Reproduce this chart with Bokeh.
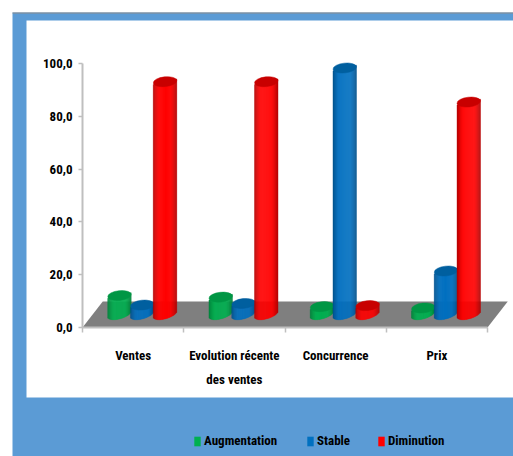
import math
from bokeh.plotting import figure
from bokeh.embed import file_html
from bokeh.resources import INLINE
from bokeh.models import Range1d, FixedTicker, BoxAnnotation, Legend, LegendItem, LinearAxis

categories = ["Ventes", "Evolution récente\ndes ventes", "Concurrence", "Prix"]
series_names = ["Augmentation", "Stable", "Diminution"]
augmentation = [7.0, 6.4, 2.8, 2.3]
stable = [3.4, 4.0, 93.2, 16.3]
diminution = [88.0, 88.0, 3.2, 80.3]
y_ticks = [0, 20, 40, 60, 80, 100]
y_labels = ["0,0", "20,0", "40,0", "60,0", "80,0", "100,0"]

FONT = "'Roboto Condensed', Lato"
FS = "13px"
BLUE = "#5B9BD5"
styles = [
    ("#00B050", "#00803A", "#009644"),
    ("#0070C0", "#004F8A", "#005F9F"),
    ("#FF0000", "#B00000", "#C80000"),
]
offsets = [0.365, 0.59, 0.815]
BAR_W = 0.232
BASE = 5.1
TILT = 1.1
ELL_H = 3.7
DEPTH_X, DEPTH_Y = 0.2, 9.85
W, H = 513, 456
X0, PX_X = 82, 101.25
Y0, PX_Y = 327, 2.64


def mix(a, b, t):
    ca = [int(a[i:i + 2], 16) for i in (1, 3, 5)]
    cb = [int(b[i:i + 2], 16) for i in (1, 3, 5)]
    return "#%02x%02x%02x" % tuple(round(x + (y - x) * t) for x, y in zip(ca, cb))


p = figure(width=W, height=H, output_backend="svg", toolbar_location=None,
           x_range=Range1d(-X0 / PX_X, (W - X0) / PX_X), y_range=Range1d(-(H - Y0) / PX_Y, Y0 / PX_Y),
           x_axis_type=None, y_axis_type=None,
           min_border=0, background_fill_color="white", border_fill_color="white", outline_line_color=None)
p.grid.visible = False

for l, t, r, b, c in [(12, 12, W, H, BLUE), (12, 12, W, 13, "#8C8C8C"), (26, 20, W, 397, "white")]:
    p.add_layout(BoxAnnotation(left=l, top=t, right=r, bottom=b, left_units="canvas", right_units="canvas",
                               top_units="canvas", bottom_units="canvas", fill_color=c, fill_alpha=1,
                               line_color=None, level="underlay"))

n = len(categories)
p.patch([0, n, n + DEPTH_X, DEPTH_X], [0, 0, DEPTH_Y, DEPTH_Y], fill_color="#7F7F7F", fill_alpha=1, line_color=None)

SLICES = 24
for values, off, (main, edge, top) in zip([augmentation, stable, diminution], offsets, styles):
    L, R, B, T, C = [], [], [], [], []
    ex, ey = [], []
    for i, v in enumerate(values):
        cx = i + off
        for k in range(SLICES):
            u0 = k / SLICES - 0.5
            u1 = u0 + 1 / SLICES
            um = (u0 + u1) / 2
            arc = (ELL_H / 2) * math.sqrt(max(0, 1 - (2 * um) ** 2))
            L.append(cx + u0 * BAR_W)
            R.append(cx + u1 * BAR_W)
            B.append(BASE + TILT * 2 * um - arc)
            T.append(BASE + v + TILT * 2 * um)
            d = abs(um) * 2
            C.append(mix(main, edge, max(0, (d - 0.45) / 0.55) ** 1.5))
        ex.append(cx)
        ey.append(BASE + v)
    p.quad(left=L, right=R, bottom=B, top=T, fill_color=C, fill_alpha=1, line_color=C, line_alpha=1, line_width=0.4)
    p.ellipse(x=ex, y=ey, width=BAR_W, height=ELL_H, angle=math.radians(6),
              fill_color=top, fill_alpha=1, line_color=top, line_alpha=1, line_width=0.5)

ya = LinearAxis(fixed_location=0, bounds=(0, 100))
ya.ticker = FixedTicker(ticks=y_ticks)
ya.major_label_overrides = dict(zip(y_ticks, y_labels))
ya.axis_line_color = "#BFBFBF"
ya.axis_line_width = 2
ya.major_tick_line_color = "#BFBFBF"
ya.major_tick_line_width = 1.5
ya.major_tick_out = 4
ya.major_tick_in = 0
ya.minor_tick_line_color = None
ya.major_label_standoff = 6
ya.major_label_text_font = FONT
ya.major_label_text_font_style = "bold"
ya.major_label_text_font_size = FS
ya.major_label_text_color = "black"
p.add_layout(ya, "left")

xa = LinearAxis(fixed_location=0, bounds=(0, n))
xa.ticker = FixedTicker(ticks=[i + 0.5 for i in range(n)], minor_ticks=list(range(n + 1)))
xa.major_label_overrides = {i + 0.5: c for i, c in enumerate(categories)}
xa.axis_line_color = "#BFBFBF"
xa.axis_line_width = 2
xa.major_tick_line_color = None
xa.minor_tick_line_color = "#BFBFBF"
xa.minor_tick_line_width = 1.5
xa.minor_tick_out = 5
xa.minor_tick_in = 0
xa.major_label_standoff = 14
xa.major_label_orientation = "horizontal"
xa.major_label_text_font = FONT
xa.major_label_text_font_style = "bold"
xa.major_label_text_font_size = FS
xa.major_label_text_color = "black"
xa.major_label_text_line_height = 1.65
p.add_layout(xa, "below")

for name, (main, _, _), x0 in zip(series_names, styles, [193, 306, 377]):
    r = p.quad(left=[float("nan")], right=[float("nan")], bottom=[float("nan")], top=[float("nan")],
               fill_color=main, fill_alpha=1, line_color=None)
    lg = Legend(items=[LegendItem(label=name, renderers=[r])], location=(x0, H - 448), orientation="horizontal",
                background_fill_alpha=0, border_line_color=None, margin=0, padding=0,
                glyph_width=8, glyph_height=12, label_standoff=3, label_height=12,
                label_text_font=FONT, label_text_font_style="bold", label_text_font_size=FS,
                label_text_color="black", label_text_baseline="middle")
    p.add_layout(lg, "center")

open("out.html", "w").write(file_html(p, INLINE))
